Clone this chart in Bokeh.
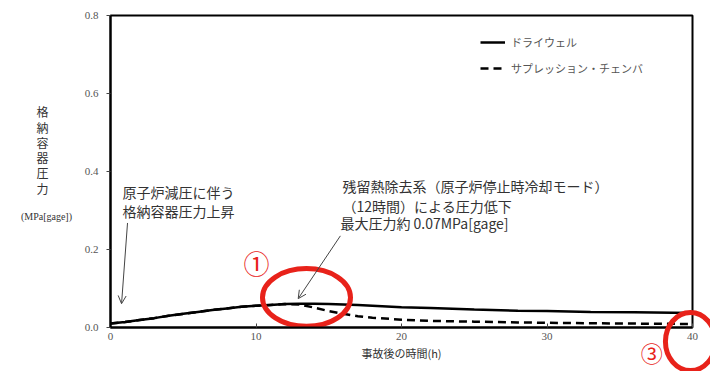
import numpy as np
from bokeh.plotting import figure
from bokeh.layouts import column
from bokeh.models import (Range1d, FixedTicker, Label, Arrow, OpenHead, Legend, LegendItem,
                          ColumnDataSource)
from bokeh.embed import file_html
from bokeh.resources import INLINE

# ---- data ----
hours = [0, 1, 2, 3, 4, 5, 6, 7, 8, 9, 10, 11, 12, 13, 14, 15, 16, 17, 18, 20, 22, 25, 28, 30, 33, 36, 40]
drywell = [0.010, 0.014, 0.019, 0.024, 0.030, 0.035, 0.040, 0.045, 0.049, 0.053, 0.056, 0.058, 0.060,
           0.061, 0.061, 0.060, 0.059, 0.058, 0.056, 0.052, 0.050, 0.046, 0.043, 0.042, 0.040, 0.039, 0.037]
suppression = [0.010, 0.014, 0.019, 0.024, 0.030, 0.035, 0.040, 0.045, 0.049, 0.053, 0.056, 0.058, 0.060,
               0.059, 0.051, 0.042, 0.035, 0.029, 0.025, 0.020, 0.017, 0.015, 0.013, 0.012, 0.011, 0.010, 0.009]
x_ticks = [0, 10, 20, 30, 40]
y_ticks = [0.0, 0.2, 0.4, 0.6, 0.8]
y_tick_labels = ["0.0", "0.2", "0.4", "0.6", "0.8"]
series_names = ["ドライウェル", "サプレッション・チェンバ"]
x_title = "事故後の時間(h)"
y_title = "格納容器圧力"
y_unit = "(MPa[gage])"

CJK = "Noto Sans CJK JP"
SERIF = "Liberation Serif"
GRAY = "#555555"
RED = "#e8221a"

W, H = 710, 371
BL, BR, BT, BB = 110, 18, 15, 44
X0, X1, Y0, Y1 = 0, 40, 0, 0.8

p = figure(width=W, height=H, output_backend="svg", toolbar_location=None,
           x_range=Range1d(X0, X1), y_range=Range1d(Y0, Y1),
           min_border_left=BL, min_border_right=BR, min_border_top=BT, min_border_bottom=BB)
p.frame_align = False
p.grid.visible = False
p.outline_line_color = "black"
p.outline_line_width = 2

p.xaxis.ticker = FixedTicker(ticks=x_ticks)
p.yaxis.ticker = FixedTicker(ticks=y_ticks)
p.yaxis.major_label_overrides = {v: s for v, s in zip(y_ticks, y_tick_labels)}
for ax in (p.xaxis[0], p.yaxis[0]):
    ax.axis_line_color = "black"
    ax.axis_line_width = 2
    ax.major_tick_line_color = "#444444"
    ax.minor_tick_line_color = None
    ax.major_label_text_font = SERIF
    ax.major_label_text_font_size = "11px"
    ax.major_label_text_color = GRAY
p.xaxis.major_tick_in = 4
p.xaxis.major_tick_out = 0
p.xaxis.major_label_standoff = 5
p.xaxis.axis_label = x_title
p.xaxis.axis_label_text_font = CJK
p.xaxis.axis_label_text_font_size = "11px"
p.xaxis.axis_label_text_font_style = "normal"
p.xaxis.axis_label_text_color = "#333333"
p.xaxis.axis_label_standoff = 2
p.yaxis.major_tick_in = 0
p.yaxis.major_tick_out = 4
p.yaxis.major_label_standoff = 8

src = ColumnDataSource(dict(t=hours, dw=drywell, sc=suppression))
r1 = p.line("t", "dw", source=src, line_color="black", line_width=2.5)
r2 = p.line("t", "sc", source=src, line_color="black", line_width=2.5, line_dash="8 5")

legend = Legend(items=[LegendItem(label=series_names[0], renderers=[r1]),
                       LegendItem(label=series_names[1], renderers=[r2])],
                location=(370, 249), padding=0, margin=0, spacing=6,
                glyph_width=25, glyph_height=20, label_height=20,
                label_text_font=CJK, label_text_font_size="11px", label_text_color=GRAY,
                border_line_alpha=0, background_fill_alpha=0, label_standoff=6)
p.add_layout(legend)

ann = dict(text_font=CJK, text_font_size="14px", text_color="#333333", text_baseline="middle")
p.add_layout(Label(x=0.82, y=0.348, text="原子炉減圧に伴う", **ann))
p.add_layout(Label(x=0.82, y=0.299, text="格納容器圧力上昇", **ann))
p.add_layout(Label(x=15.95, y=0.363, text="残留熱除去系（原子炉停止時冷却モード）", **ann))
p.add_layout(Label(x=15.95, y=0.312, text="（12時間）による圧力低下", **ann))
p.add_layout(Label(x=15.8, y=0.267, text="最大圧力約 0.07MPa[gage]", **ann))

p.add_layout(Arrow(x_start=1.17, y_start=0.268, x_end=0.76, y_end=0.061,
                   line_color="#444444", line_width=1,
                   end=OpenHead(size=8, line_color="#444444", line_width=1)))
p.add_layout(Arrow(x_start=15.8, y_start=0.235, x_end=12.9, y_end=0.074,
                   line_color="#444444", line_width=1,
                   end=OpenHead(size=8, line_color="#444444", line_width=1)))

p.ellipse(x=[13.47], y=[0.077], width=[6.05], height=[0.148], fill_alpha=0,
          line_color=RED, line_width=5)
p.add_layout(Label(x=10.03, y=0.166, text="①", text_font=CJK, text_font_size="26px",
                   text_color=RED, text_align="center", text_baseline="middle"))

# ---- transparent overlay sharing the same data mapping, covering the whole canvas ----
fw = W - BL - BR
fh = H - BT - BB
ux = (X1 - X0) / fw
uy = (Y1 - Y0) / fh
q = figure(width=W, height=H, output_backend="svg", toolbar_location=None,
           x_range=Range1d(X0 - BL * ux, X1 + BR * ux), y_range=Range1d(Y0 - BB * uy, Y1 + BT * uy),
           x_axis_type=None, y_axis_type=None, min_border=0,
           styles={"margin-top": f"-{H}px"})
q.frame_align = False
q.grid.visible = False
q.outline_line_color = None
q.background_fill_alpha = 0
q.border_fill_alpha = 0

q.add_layout(Label(x=-4.67, y=0.575, text="\n".join(y_title), text_font=CJK,
                   text_font_size="12px", text_color="#333333", text_align="center",
                   text_baseline="top", text_line_height=0.9))
q.add_layout(Label(x=-4.4, y=0.284, text=y_unit, text_font=SERIF, text_font_size="10px",
                   text_color="#333333", text_align="center", text_baseline="middle"))
q.ellipse(x=[39.86], y=[-0.036], width=[3.44], height=[0.149], fill_alpha=0,
          line_color=RED, line_width=5)
q.add_layout(Label(x=37.2, y=-0.064, text="③", text_font=CJK, text_font_size="22px",
                   text_color=RED, text_align="center", text_baseline="middle"))

layout = column(p, q)
open("out.html", "w").write(file_html(layout, INLINE))
